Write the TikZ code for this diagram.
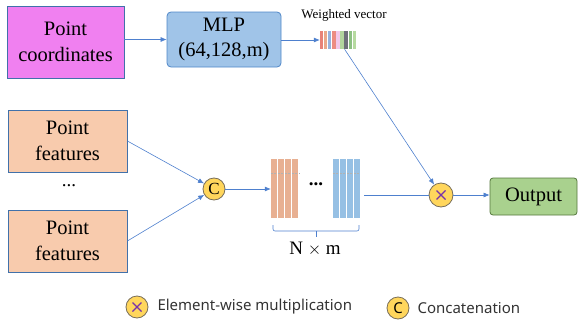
\documentclass[tikz,border=0pt]{standalone}
\usepackage{fontspec}
\setmainfont{Liberation Serif}
\newfontfamily\legendfont{Noto Sans}
\usetikzlibrary{arrows.meta,calc}

\definecolor{boxedge}{RGB}{65,113,170}
\definecolor{linkblue}{RGB}{78,128,206}
\definecolor{pinkfill}{RGB}{240,128,240}
\definecolor{mlpfill}{RGB}{160,196,232}
\definecolor{mlpedge}{RGB}{80,135,200}
\definecolor{featfill}{RGB}{248,203,173}
\definecolor{outfill}{RGB}{169,209,142}
\definecolor{outedge}{RGB}{84,120,60}
\definecolor{opfill}{RGB}{255,214,92}
\definecolor{opedge}{RGB}{120,110,90}
\definecolor{xmark}{RGB}{120,50,170}
\definecolor{orangecol}{RGB}{232,176,146}
\definecolor{bluecol}{RGB}{150,192,228}

\tikzset{
  textbox/.style={draw=boxedge, line width=0.8pt, align=center, font=\fontsize{20.5}{25.5}\selectfont, inner sep=0pt},
  opcircle/.style={circle, draw=opedge, fill=opfill, line width=0.8pt, inner sep=0pt, minimum size=#1},
  link/.style={draw=linkblue, line width=0.6pt},
  arrowlink/.style={link, -{Latex[length=6pt,width=5pt]}},
  legendtext/.style={anchor=west, font=\legendfont\fontsize{15}{17}\selectfont, text=black!80},
}

\begin{document}
\begin{tikzpicture}[x=1pt,y=-1pt]
\useasboundingbox (0,0) rectangle (584,324);

% input boxes
\node[textbox, fill=pinkfill, minimum width=117pt, minimum height=72pt] (coord) at (65.5,42) {Point\\coordinates};
\node[textbox, fill=mlpfill, draw=mlpedge, rounded corners=4pt, minimum width=114pt, minimum height=55pt] (mlp) at (224,39.5) {MLP\\(64,128,m)};
\node[textbox, fill=featfill, minimum width=119pt, minimum height=62pt] (feat1) at (67.5,141) {Point\\features};
\node[textbox, fill=featfill, minimum width=119pt, minimum height=62pt] (feat2) at (67.5,241) {Point\\features};
\node[font=\fontsize{19}{22}\selectfont] (fdots) at (69,186) {...};

% weighted vector: a strip of coloured stripes
\node[minimum width=37pt, minimum height=18pt, inner sep=0pt] (wv) at (338.5,40) {};
\foreach \c [count=\i from 0] in {
  {232,130,120},{234,168,138},{150,178,222},{236,140,130},{242,200,234},
  {178,214,158},{110,112,122},{140,192,130},{182,218,160}} {
  \definecolor{stripe}{RGB}{\c}
  \fill[stripe] ($(wv.north west)+(\i*4.11,0)$) rectangle ++(3.4,18);
}
\node[font=\fontsize{13}{15}\selectfont, anchor=south] (wvlabel) at (344,25) {Weighted vector};

% concatenation and multiplication operators
\node[opcircle=22pt, font=\fontsize{17}{19}\selectfont] (cat) at (214,189) {C};
\node[opcircle=24pt] (mul) at (441,195) {};
\draw[xmark, line width=1.1pt] ($(mul)+(-4.5,-4.5)$) -- ($(mul)+(4.5,4.5)$)
      ($(mul)+(-4.5,4.5)$) -- ($(mul)+(4.5,-4.5)$);

% feature stacks
\node[minimum width=28pt, minimum height=59pt, inner sep=0pt] (ostack) at (285,188.5) {};
\node[minimum width=27pt, minimum height=59pt, inner sep=0pt] (bstack) at (346.5,188.5) {};
\foreach \i in {0,1,2,3} {
  \fill[orangecol] ($(ostack.north west)+(\i*7,0)$) rectangle ++(6,59);
  \fill[bluecol] ($(bstack.north west)+(\i*7,0)$) rectangle ++(6,59);
}
\draw[gray!60, line width=0.5pt, dash pattern=on 2pt off 1.5pt]
  ($(ostack.north west)+(0,14)$) -- ($(ostack.north east)+(0,14)$)
  ($(bstack.north west)+(0,14)$) -- ($(bstack.north east)+(0,14)$);
\node[font=\fontsize{19}{22}\selectfont\bfseries] (sdots) at (316,184) {...};

% bracket under the stacks
\coordinate (brl) at (273,225);
\coordinate (brr) at (359,225);
\coordinate (brm) at (316,231);
\draw[link, rounded corners=2pt] (brl) -- ++(0,6) -- (brr |- brm) -- (brr);
\draw[link] (brm) -- ++(0,6);
\node[font=\fontsize{19}{22}\selectfont] (nm) at (315,249) {N $\times$ m};

% output
\node[textbox, fill=outfill, draw=outedge, rounded corners=3pt, minimum width=87pt, minimum height=37pt] (out) at (533.5,196.5) {Output};

% connectors
\draw[arrowlink] (coord.east |- mlp) -- (mlp.west);
\draw[arrowlink] (mlp.east |- wv) -- (wv.west);
\draw[arrowlink] (wv) -- (mul);
\draw[arrowlink] (feat1.east) -- (cat);
\draw[arrowlink] (feat2.east) -- (cat);
\draw[arrowlink] (cat) -- (ostack.west |- cat);
\coordinate (stackout) at (364,195);
\draw[link] (stackout) -- (mul);
\draw[arrowlink] (mul) -- (out.west |- mul);

% legend
\node[opcircle=22pt] (lmul) at (137,307) {};
\draw[xmark, line width=1.1pt] ($(lmul)+(-4.5,-4.5)$) -- ($(lmul)+(4.5,4.5)$)
      ($(lmul)+(-4.5,4.5)$) -- ($(lmul)+(4.5,-4.5)$);
\node[legendtext] (lmultext) at (154,307) {Element-wise multiplication};
\node[opcircle=22pt, font=\legendfont\fontsize{15}{17}\selectfont] (lcat) at (398,308) {C};
\node[legendtext] (lcattext) at (414,308) {Concatenation};
\end{tikzpicture}
\end{document}
